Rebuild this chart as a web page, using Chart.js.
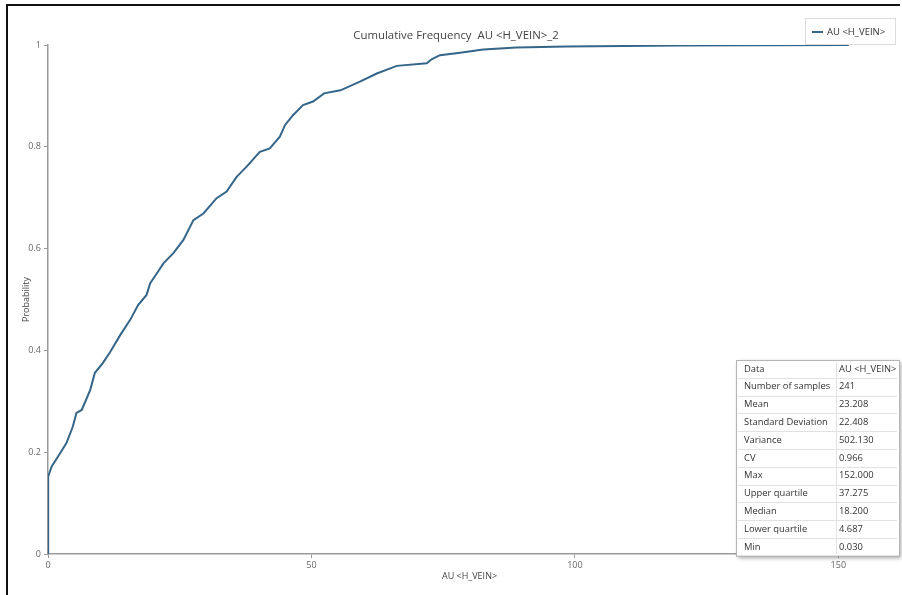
<!DOCTYPE html>
<html>
<head>
<meta charset="utf-8">
<script src="https://cdn.jsdelivr.net/npm/chart.js@4.4.1/dist/chart.umd.min.js"></script>
<style>
  body { margin: 0; background: #fff; }
  #wrap { position: absolute; left: 0; top: 0; width: 902px; height: 595px; }
</style>
</head>
<body>
<div id="wrap"><canvas id="cdf-chart" width="902" height="595"></canvas></div>
<script>
//!datos de la curva acumulada
const auValues = [0.03, 0.03, 0.7, 2.3, 3.5, 4.7, 5.4, 6.4, 8.0, 8.9, 10.4, 11.8, 13.7, 15.6, 17.1, 18.7, 19.4, 20.9, 21.9, 23.8, 25.7, 27.6, 29.5, 32.0, 33.9, 35.8, 37.7, 40.2, 42.1, 44.0, 45.0, 46.5, 48.4, 50.3, 52.4, 55.5, 59.2, 62.4, 66.2, 71.9, 72.8, 74.4, 78.2, 82.6, 88.9, 98.4, 120, 152]
const probValues = [0, 0.152, 0.172, 0.198, 0.218, 0.25, 0.277, 0.283, 0.322, 0.356, 0.375, 0.397, 0.43, 0.46, 0.489, 0.509, 0.532, 0.555, 0.571, 0.591, 0.617, 0.656, 0.669, 0.699, 0.712, 0.741, 0.761, 0.790, 0.797, 0.82, 0.843, 0.862, 0.882, 0.889, 0.905, 0.911, 0.928, 0.944, 0.959, 0.964, 0.972, 0.98, 0.985, 0.991, 0.995, 0.997, 0.999, 1]
const xTicks = [0, 50, 100, 150]
const yTicks = [0, 0.2, 0.4, 0.6, 0.8, 1]

//!tabla de estadisticas
const statLabels = ['Data', 'Number of samples', 'Mean', 'Standard Deviation', 'Variance', 'CV', 'Max', 'Upper quartile', 'Median', 'Lower quartile', 'Min']
const statValues = ['AU <H_VEIN>', '241', '23.208', '22.408', '502.130', '0.966', '152.000', '37.275', '18.200', '4.687', '0.030']

const seriesName = 'AU <H_VEIN>'
const chartTitle = 'Cumulative Frequency  AU <H_VEIN>_2'
const lineColor = '#35668a'
const FONT = "'Open Sans', sans-serif"

const points = auValues.map((x, i) => ({x, y: probValues[i]}))

//!dibuja marco, titulo, leyenda y tabla
const extras = {
    id: 'extras',
    beforeDraw(chart){
        const ctx = chart.ctx
        ctx.save()
        ctx.fillStyle = '#fff'
        ctx.fillRect(0, 0, chart.width, chart.height)
        ctx.strokeStyle = '#111'
        ctx.lineWidth = 2
        ctx.beginPath()
        ctx.moveTo(7, 595)
        ctx.lineTo(7, 5)
        ctx.lineTo(900, 5)
        ctx.stroke()
        ctx.restore()
    },
    afterDraw(chart){
        const ctx = chart.ctx
        ctx.save()
        // titulo
        ctx.fillStyle = '#444'
        ctx.font = `11.4px ${FONT}`
        ctx.textAlign = 'center'
        ctx.textBaseline = 'middle'
        ctx.fillText(chartTitle, 456, 36)

        // leyenda
        ctx.fillStyle = '#fff'
        ctx.fillRect(805, 18, 90, 26)
        ctx.strokeStyle = '#dcdcdc'
        ctx.lineWidth = 1
        ctx.strokeRect(805.5, 18.5, 90, 26)
        ctx.strokeStyle = lineColor
        ctx.lineWidth = 2
        ctx.beginPath()
        ctx.moveTo(812, 32)
        ctx.lineTo(823, 32)
        ctx.stroke()
        ctx.fillStyle = '#333'
        ctx.font = `9.5px ${FONT}`
        ctx.textAlign = 'left'
        ctx.fillText(seriesName, 827, 32)

        // tabla
        const x0 = 736, y0 = 360, w = 163, rowH = 17.8, colX = 836
        const h = rowH * statLabels.length
        ctx.shadowColor = 'rgba(0,0,0,0.35)'
        ctx.shadowBlur = 4
        ctx.shadowOffsetX = 2
        ctx.shadowOffsetY = 2
        ctx.fillStyle = '#fff'
        ctx.fillRect(x0, y0, w, h)
        ctx.shadowColor = 'transparent'
        ctx.strokeStyle = '#b5b5b5'
        ctx.lineWidth = 1
        ctx.strokeRect(x0 + 0.5, y0 + 0.5, w, h)
        ctx.strokeStyle = '#e2e2e2'
        for (let i = 1; i < statLabels.length; i++){
            const y = Math.round(y0 + i * rowH) + 0.5
            ctx.beginPath()
            ctx.moveTo(x0 + 2, y)
            ctx.lineTo(x0 + w - 2, y)
            ctx.stroke()
        }
        ctx.beginPath()
        ctx.moveTo(colX + 0.5, y0 + 2)
        ctx.lineTo(colX + 0.5, y0 + h - 2)
        ctx.stroke()
        ctx.fillStyle = '#333'
        ctx.font = `9.4px ${FONT}`
        ctx.textBaseline = 'middle'
        statLabels.forEach((lab, i) => {
            const y = y0 + rowH * i + rowH / 2
            ctx.fillText(lab, x0 + 8, y)
            ctx.fillText(statValues[i], colX + 3, y)
        })
        ctx.restore()
    }
}

const ctxChart = document.querySelector('#cdf-chart').getContext('2d')
const myChart = new Chart(ctxChart, {
    type: 'scatter',
    data: {
        datasets: [{
            label: seriesName,
            data: points,
            showLine: true,
            borderColor: lineColor,
            borderWidth: 2,
            pointRadius: 0,
            tension: 0
        }]
    },
    options: {
        responsive: false,
        animation: false,
        layout: { padding: { top: 45, right: 11, left: 0, bottom: 0 } },
        plugins: {
            legend: { display: false },
            tooltip: { enabled: false }
        },
        scales: {
            x: {
                type: 'linear',
                min: 0,
                max: 160,
                afterBuildTicks: s => { s.ticks = xTicks.map(v => ({value: v})) },
                afterFit: s => { s.height = 41 },
                ticks: { color: '#666', font: { family: FONT, size: 9 }, padding: 2, callback: v => String(v) },
                grid: { drawOnChartArea: false, tickLength: 4, color: '#9a9a9a' },
                border: { color: '#9a9a9a', width: 1.5 },
                title: { display: true, text: seriesName, color: '#444', font: { family: FONT, size: 9 }, padding: { top: 0, bottom: 13 } }
            },
            y: {
                min: 0,
                max: 1,
                afterBuildTicks: s => { s.ticks = yTicks.map(v => ({value: v})) },
                afterFit: s => { s.width = 48 },
                ticks: { color: '#666', font: { family: FONT, size: 9 }, padding: 3, callback: v => String(+v.toFixed(2)) },
                grid: { drawOnChartArea: false, tickLength: 4, color: '#9a9a9a' },
                border: { color: '#9a9a9a', width: 1.5 },
                title: { display: true, text: 'Probability', color: '#444', font: { family: FONT, size: 9 }, padding: { top: 21, bottom: 0 } }
            }
        }
    },
    plugins: [extras]
})
</script>
</body>
</html>
